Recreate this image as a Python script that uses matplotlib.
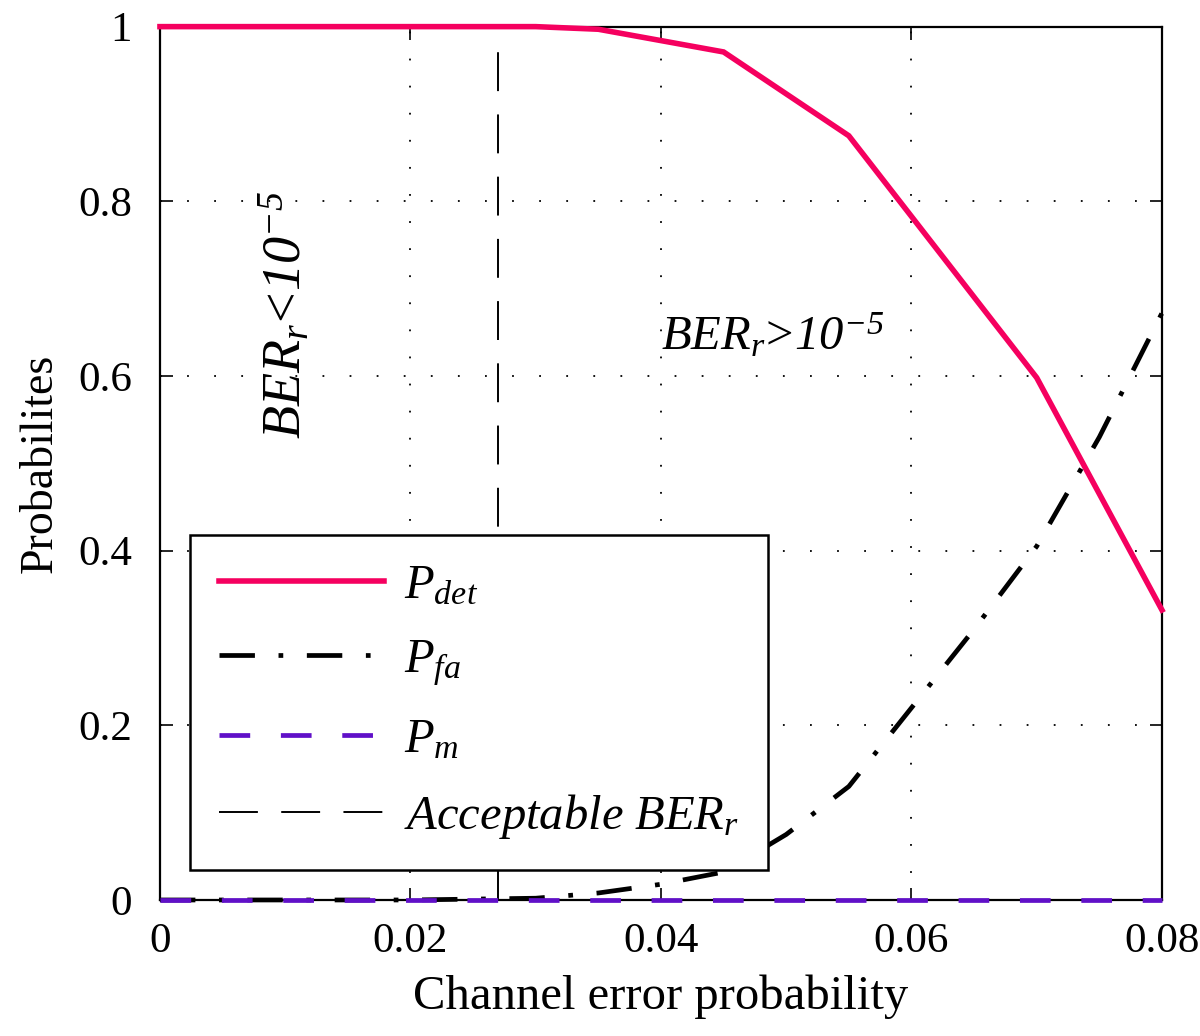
import matplotlib
matplotlib.use("Agg")
import matplotlib.pyplot as plt

plt.rcParams['font.family'] = ['Liberation Serif', 'DejaVu Serif']
plt.rcParams['mathtext.fontset'] = 'custom'
plt.rcParams['mathtext.rm'] = 'Liberation Serif'
plt.rcParams['mathtext.it'] = 'Liberation Serif:italic'
plt.rcParams['mathtext.sf'] = 'Liberation Serif:italic'
plt.rcParams['mathtext.bf'] = 'Liberation Serif:bold'

# Data
x_det = [0.0, 0.01, 0.02, 0.03, 0.035, 0.045, 0.055, 0.07, 0.08]
p_det = [1.0, 1.0, 1.0, 1.0, 0.997, 0.971, 0.875, 0.598, 0.332]

x_fa = [0.0, 0.01, 0.02, 0.03, 0.035, 0.04, 0.045, 0.05, 0.055, 0.06, 0.065, 0.07, 0.075, 0.08]
p_fa = [0.0, 0.0, 0.0, 0.002, 0.008, 0.018, 0.032, 0.075, 0.13, 0.22, 0.31, 0.405, 0.53, 0.672]

x_m = [0.0, 0.08]
p_m = [0.0, 0.0]

ber_threshold = 0.027

xticks = [0, 0.02, 0.04, 0.06, 0.08]
xtick_labels = ['0', '0.02', '0.04', '0.06', '0.08']
yticks = [0, 0.2, 0.4, 0.6, 0.8, 1.0]
ytick_labels = ['0', '0.2', '0.4', '0.6', '0.8', '1']

fig = plt.figure(figsize=(12, 10.36), dpi=100)
ax = fig.add_axes([0.1333, 0.1313, 0.835, 0.843])

ax.plot(x_det, p_det, color='#F5005F', lw=4.0, label=r'$P_{det}$', zorder=3,
        solid_joinstyle='miter', clip_on=False)
ax.plot(x_fa, p_fa, color='black', lw=3.4, dashes=(7.5, 5, 1, 5), label=r'$P_{fa}$',
        zorder=3, clip_on=False)
ax.plot(x_m, p_m, color='#6010C8', lw=3.4, dashes=(6.5, 6.5), label=r'$P_m$',
        zorder=4, clip_on=False)
ax.axvline(ber_threshold, color='black', lw=1.4, dashes=(20, 12),
           label=r'$\mathit{Acceptable\ BER_r}$', zorder=2)

ax.set_xlim(0, 0.08)
ax.set_ylim(0, 1)
ax.set_xticks(xticks)
ax.set_xticklabels(xtick_labels)
ax.set_yticks(yticks)
ax.set_yticklabels(ytick_labels)
ax.tick_params(axis='x', direction='in', length=9, width=1.2, top=True, labelsize=31, pad=16)
ax.tick_params(axis='y', direction='in', length=9, width=1.2, right=True, labelsize=31, pad=20)
ax.grid(True, color='black', linestyle=(0, (1, 14)), lw=1.3)
for s in ax.spines.values():
    s.set_linewidth(1.6)

ax.set_xlabel('Channel error probability', fontsize=35, labelpad=10)
ax.set_ylabel('Probabilites', fontsize=33, labelpad=12)

ax.text(0.0101, 0.67, r'$\mathit{BER_r}\!<\!\mathsf{10^{-5}}$', rotation=90, fontsize=39,
        ha='center', va='center')
ax.text(0.0400, 0.645, r'$\mathit{BER_r}\!>\!\mathsf{10^{-5}}$', fontsize=35,
        ha='left', va='center')

leg = ax.legend(loc='upper left', bbox_to_anchor=(0.030, 0.418), fontsize=35,
                frameon=True, fancybox=False, framealpha=1, edgecolor='black',
                handlelength=3.4, borderpad=0.6, labelspacing=0.62, handletextpad=0.4,
                borderaxespad=0)
leg.get_frame().set_linewidth(1.8)
leg.set_zorder(10)

fig.savefig('out.png', dpi=100)
